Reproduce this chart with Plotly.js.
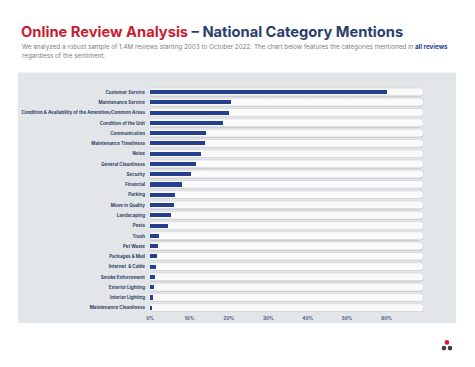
<!DOCTYPE html>
<html><head><meta charset="utf-8">
<script src="https://cdn.plot.ly/plotly-3.0.1.min.js"></script>
<style>html,body{margin:0;padding:0;background:#fff;}#chart{width:475px;height:367px;}</style>
</head><body><div id="chart"></div>
<script>
const categories = ["Customer Service","Maintenance Service","Condition & Availability of the Amenities/Common Areas","Condition of the Unit","Communication","Maintenance Timeliness","Noise","General Cleanliness","Security","Financial","Parking","Move in Quality","Landscaping","Pests","Trash","Pet Waste","Packages & Mail","Internet  & Cable","Smoke Enforcement","Exterior Lighting","Interior Lighting","Maintenance Cleanliness"];
const mentions = [60.0,20.5,20.1,18.4,14.2,13.9,12.9,11.6,10.4,8.0,6.3,6.1,5.2,4.6,2.4,2.0,1.9,1.5,1.2,0.9,0.8,0.5];
const tickVals = [0,10,20,30,40,50,60];
const tickText = ["0%","10%","20%","30%","40%","50%","60%"];

const W = 475, H = 367;
const L = 150.3, T = 86.6, PW = 276.2, PH = 226;
const px = x => (x - L) / PW;
const py = y => 1 - (y - T) / PH;
const TRACK_END = 69.4;

const shadow = {
  type: 'bar', orientation: 'h', y: categories, x: categories.map(() => TRACK_END),
  width: 0.78, offset: -0.33, marker: {color: '#c9cdd2', line: {width: 0}, cornerradius: 4},
  hoverinfo: 'skip', showlegend: false
};
const track = {
  type: 'bar', orientation: 'h', y: categories, x: categories.map(() => TRACK_END),
  width: 0.76, offset: -0.4, marker: {color: 'rgba(255,255,255,0.9)', line: {color: '#d3d7db', width: 0.8}, cornerradius: 4},
  hoverinfo: 'skip', showlegend: false
};
const bars = {
  type: 'bar', orientation: 'h', y: categories, x: mentions,
  width: 0.4, offset: -0.21, marker: {color: '#26408f', line: {width: 0}},
  showlegend: false
};

const layout = {
  width: W, height: H,
  margin: {l: L, r: W - L - PW, t: T, b: H - T - PH, pad: 0},
  paper_bgcolor: '#ffffff', plot_bgcolor: 'rgba(0,0,0,0)',
  barmode: 'overlay', bargap: 0,
  font: {family: 'Inter, "Open Sans", sans-serif'},
  xaxis: {range: [0, 70], tickvals: tickVals, ticktext: tickText, showgrid: true, gridcolor: '#e4e6e9', gridwidth: 1,
          zeroline: false, showline: false, ticks: '', ticklabelstandoff: 1,
          tickfont: {family: 'Inter, sans-serif', size: 4.6, color: '#4a5877', weight: 700}, fixedrange: true},
  yaxis: {autorange: 'reversed', type: 'category', showgrid: false, zeroline: false, showline: false, ticks: '',
          ticklabelstandoff: 4, tickfont: {family: 'Inter, sans-serif', size: 4.5, color: '#2f3f66', weight: 700}},
  shapes: [
    {type: 'rect', xref: 'paper', yref: 'paper', x0: px(18), x1: px(456.7), y0: py(322.7), y1: py(72),
     fillcolor: '#e3e6e9', line: {width: 0}, layer: 'below'},
    {type: 'circle', xref: 'paper', yref: 'paper', x0: px(445.2), x1: px(449.8), y0: py(344.3), y1: py(339.7), fillcolor: '#d0202e', line: {width: 0}},
    {type: 'circle', xref: 'paper', yref: 'paper', x0: px(442.2), x1: px(446.8), y0: py(350), y1: py(345.4), fillcolor: '#3c3c40', line: {width: 0}},
    {type: 'circle', xref: 'paper', yref: 'paper', x0: px(448.2), x1: px(452.8), y0: py(350), y1: py(345.4), fillcolor: '#3c3c40', line: {width: 0}}
  ],
  annotations: [
    {xref: 'paper', yref: 'paper', x: px(19.5), y: py(32), xanchor: 'left', yanchor: 'middle', showarrow: false,
     text: '<span style="color:#c8202f">Online Review Analysis</span><span style="color:#2c3e6c"> – National Category Mentions</span>',
     font: {family: 'Inter, sans-serif', size: 14.7, weight: 700}},
    {xref: 'paper', yref: 'paper', x: px(20), y: py(46.3), xanchor: 'left', yanchor: 'middle', showarrow: false,
     text: 'We analyzed a robust sample of 1.4M reviews starting 2003 to October 2022. The chart below features the categories mentioned in <b><span style="color:#2a3f99">all reviews</span></b>',
     font: {family: 'Inter, sans-serif', size: 6.3, color: '#7a7d82'}},
    {xref: 'paper', yref: 'paper', x: px(20), y: py(55.3), xanchor: 'left', yanchor: 'middle', showarrow: false,
     text: 'regardless of the sentiment.',
     font: {family: 'Inter, sans-serif', size: 6.3, color: '#7a7d82'}}
  ]
};
Plotly.newPlot('chart', [shadow, track, bars], layout, {displayModeBar: false, staticPlot: true});
</script></body></html>
